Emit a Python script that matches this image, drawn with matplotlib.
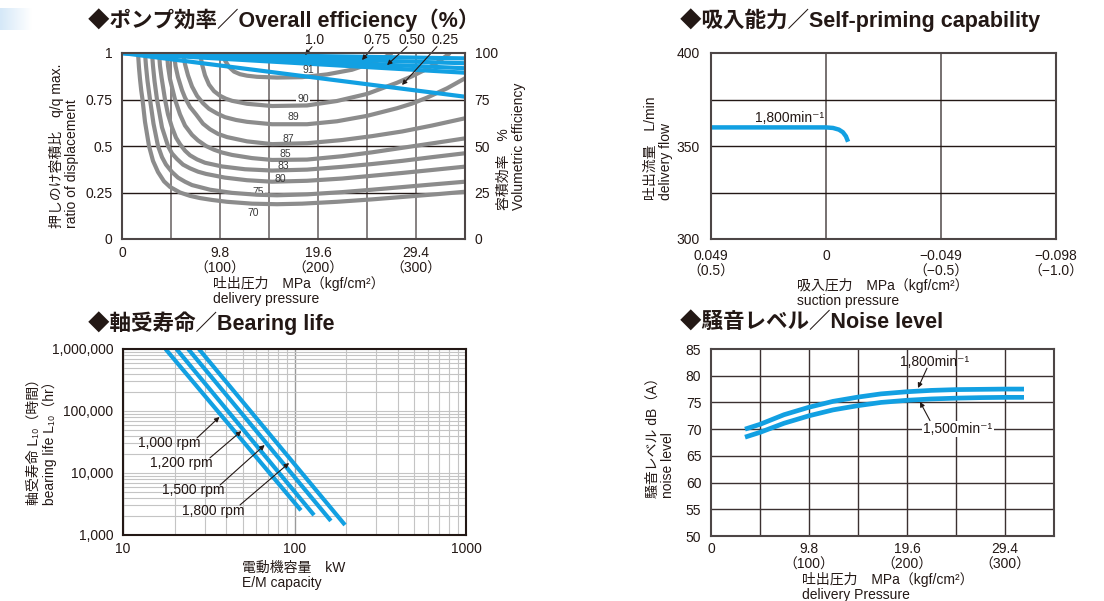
import matplotlib
matplotlib.use('Agg')
import matplotlib.pyplot as plt
import numpy as np
from matplotlib.ticker import NullFormatter

plt.rcParams['font.family'] = ['Liberation Sans', 'Noto Sans CJK JP', 'DejaVu Sans']
plt.rcParams['font.size'] = 10

W, H = 1104, 601
BLUE = '#12a0e2'
GRAY = '#8c8c8c'
INK = '#231815'

# ---- ポンプ効率: delivery pressure (MPa) / displacement ratio ----
eff_levels = ['70', '75', '80', '83', '85', '87', '89', '90', '91']
eff70 = [(1.6, 1.0), (1.7, 0.92), (1.8, 0.86), (1.92, 0.8), (2.05, 0.75), (2.3, 0.63), (2.7, 0.5),
         (3.1, 0.42), (3.6, 0.36), (4.2, 0.31), (4.8, 0.28), (5.8, 0.25), (6.8, 0.232),
         (7.8, 0.22), (9.0, 0.21), (10.5, 0.2), (13, 0.19), (15.5, 0.187), (18, 0.19),
         (21.5, 0.2), (25, 0.213), (28.5, 0.228), (31.5, 0.241), (34.3, 0.254)]
eff75 = [(2.3, 1.0), (2.4, 0.93), (2.55, 0.85), (2.8, 0.75), (3.15, 0.62), (3.6, 0.5), (4.0, 0.44),
         (4.4, 0.4), (5.0, 0.36), (5.6, 0.33), (6.3, 0.308), (7.0, 0.29), (8.8, 0.265),
         (11, 0.248), (13.5, 0.238), (15.5, 0.235), (18.5, 0.24), (22, 0.252), (25, 0.265),
         (28, 0.279), (31, 0.293), (34.3, 0.308)]
eff80 = [(3.0, 1.0), (3.1, 0.93), (3.25, 0.85), (3.5, 0.75), (4.0, 0.6), (4.6, 0.5), (5.0, 0.46),
         (5.5, 0.43), (6.1, 0.4), (6.8, 0.38), (7.6, 0.362), (8.4, 0.35), (10.3, 0.33),
         (12.5, 0.316), (15, 0.308), (18.5, 0.313), (22, 0.325), (25, 0.34), (28, 0.355),
         (31, 0.371), (34.3, 0.389)]
eff83 = [(3.7, 1.0), (3.8, 0.93), (3.95, 0.87), (4.3, 0.75), (4.6, 0.67), (5.0, 0.6),
         (5.4, 0.545), (5.8, 0.51), (6.3, 0.475), (6.8, 0.45), (7.5, 0.428), (8.3, 0.41),
         (10, 0.39), (12.3, 0.375), (15, 0.368), (18.5, 0.373), (22, 0.388), (25, 0.403),
         (28, 0.42), (31, 0.44), (34.3, 0.461)]
eff85 = [(4.5, 1.0), (4.6, 0.93), (4.8, 0.86), (5.3, 0.75), (5.8, 0.67), (6.3, 0.61), (7.0, 0.56),
         (7.6, 0.53), (8.4, 0.5), (9.2, 0.48), (10, 0.465), (11, 0.452), (13, 0.435), (15, 0.425),
         (18.5, 0.427), (22, 0.445), (25, 0.466), (28, 0.49), (31, 0.514), (34.3, 0.541)]
eff87 = [(5.2, 1.0), (5.35, 0.93), (5.6, 0.87), (6.0, 0.8), (6.3, 0.76), (6.8, 0.71), (7.4, 0.67),
         (8.1, 0.62), (8.8, 0.59), (9.6, 0.565), (10.5, 0.548), (12.5, 0.525), (15, 0.51),
         (18.5, 0.515), (22, 0.532), (25, 0.553), (28, 0.578), (31, 0.61), (34.3, 0.649)]
eff89 = [(6.1, 1.0), (6.3, 0.94), (6.6, 0.88), (7.0, 0.82), (7.5, 0.77), (8.1, 0.73), (8.7, 0.7),
         (9.5, 0.675), (10.3, 0.655), (11.4, 0.64), (12.5, 0.63), (15, 0.617), (18.5, 0.617),
         (21.5, 0.633), (24.5, 0.662), (27.5, 0.703), (29, 0.728), (30.5, 0.76), (32.5, 0.81),
         (34.3, 0.864)]
eff90 = [(7.8, 1.0), (8.0, 0.94), (8.3, 0.88), (8.7, 0.83), (9.2, 0.795), (9.8, 0.77),
         (10.4, 0.754), (11, 0.743), (12.5, 0.727), (15, 0.715), (18.5, 0.718), (21.5, 0.742),
         (24.5, 0.78), (27.5, 0.84), (29, 0.875), (30.5, 0.915), (31.7, 0.955), (32.8, 1.0)]
eff91 = [(10.1, 1.0), (10.3, 0.96), (10.7, 0.925), (11.2, 0.9), (11.8, 0.886), (12.5, 0.878),
         (13.5, 0.872), (15.5, 0.868), (18, 0.87), (20.5, 0.885), (23, 0.91), (25.2, 0.95),
         (26.2, 0.975), (27, 1.0)]
eff_curves = [eff70, eff75, eff80, eff83, eff85, eff87, eff89, eff90, eff91]

# volumetric efficiency (%) lines, pressure 0 -> 34.3 MPa
vol_pressure = [0, 34.3]
vol_lines = [[100, 97.1], [100, 94.5], [100, 91.8], [100, 89.4], [100, 76.5]]
vol_ratio_labels = ['1.0', '0.75', '0.50', '0.25']

# ---- 吸入能力 ----
suction_p = [0.049, 0.02, 0.0, -0.003, -0.0055, -0.0072, -0.0085, -0.0094]
suction_flow = [360, 360, 360, 359.7, 358.8, 357.4, 355.2, 352.3]

# ---- 軸受寿命 (kW, hr) ----
rpm_labels = ['1,000 rpm', '1,200 rpm', '1,500 rpm', '1,800 rpm']
life_kw = [[17.7, 109], [20.5, 130], [24.0, 163], [27.7, 197]]
life_hr = [[1e6, 2500], [1e6, 2090], [1e6, 1690], [1e6, 1450]]

# ---- 騒音レベル ----
noise_p = [3.4, 4.9, 7.3, 9.8, 12.2, 14.7, 17.0, 19.6, 22.0, 24.5, 27.0, 29.4, 31.3]
noise_1800 = [70.0, 70.9, 72.7, 74.1, 75.2, 76.0, 76.6, 77.0, 77.25, 77.4, 77.45, 77.5, 77.5]
noise_1500 = [68.5, 69.4, 71.1, 72.5, 73.6, 74.4, 75.0, 75.4, 75.65, 75.8, 75.9, 75.95, 75.95]


def rect(x0, y0, x1, y1):
    return [x0 / W, 1 - y1 / H, (x1 - x0) / W, (y1 - y0) / H]


def ftext(x, y, s, **kw):
    fig.text(x / W, 1 - y / H, s, **kw)


def style_axes(ax):
    for s in ax.spines.values():
        s.set_color('#4d4646')
        s.set_linewidth(1.5)
        s.set_zorder(3)
    ax.tick_params(length=0, labelsize=10, colors=INK, pad=5)


arrow_kw = dict(arrowstyle='-|>', color=INK, lw=0.8, mutation_scale=7, shrinkA=0, shrinkB=0)

fig = plt.figure(figsize=(W / 100, H / 100), dpi=100)

# light blue corner mark
cax = fig.add_axes(rect(0, 8, 32, 30))
cax.imshow(np.linspace(0, 1, 64)[None, :], aspect='auto',
           cmap=matplotlib.colors.LinearSegmentedColormap.from_list('c', ['#d5e8f8', '#ffffff']))
cax.axis('off')

title_kw = dict(fontsize=15.5, fontweight='bold', color=INK, va='center', ha='left')
ftext(88, 20, '◆ポンプ効率／Overall efficiency（%）', **title_kw)
ftext(680, 20, '◆吸入能力／Self-priming capability', **title_kw)
ftext(88, 323, '◆軸受寿命／Bearing life', **title_kw)
ftext(680, 323, '◆騒音レベル／Noise level', **title_kw)

lab_kw = dict(fontsize=10, color=INK, linespacing=1.1)

# ================= overall efficiency =================
ax1 = fig.add_axes(rect(122, 53, 465, 239))
ax1.set_xlim(0, 34.3)
ax1.set_ylim(0, 1)
style_axes(ax1)
ax1.vlines(np.arange(4.9, 34.0, 4.9), 0, 1, colors='#7d7777', lw=1.3, zorder=0.5)
ax1.hlines([0.25, 0.5, 0.75], 0, 34.3, colors=INK, lw=1.0, zorder=0.6)
for pts in eff_curves:
    ax1.plot([p for p, q in pts], [q for p, q in pts], color=GRAY, lw=3.0,
             solid_capstyle='butt', solid_joinstyle='round', zorder=2)
for v in vol_lines:
    ax1.plot(vol_pressure, [x / 100 for x in v], color=BLUE, lw=3.0,
             solid_capstyle='butt', zorder=2.2)
ax1.set_xticks([0, 9.8, 19.6, 29.4])
ax1.set_xticklabels(['0', '9.8\n（100）', '19.6\n（200）', '29.4\n（300）'])
ax1.set_yticks([0, 0.25, 0.5, 0.75, 1])
ax1.set_yticklabels(['0', '0.25', '0.5', '0.75', '1'])
ax1.tick_params(axis='y', pad=7)
sec = ax1.secondary_yaxis('right', functions=(lambda q: q * 100, lambda v: v / 100))
sec.set_yticks([0, 25, 50, 75, 100])
sec.tick_params(length=0, labelsize=10, colors=INK, pad=7)
sec.spines['right'].set_visible(False)

eff_label_pos = [(13.1, 0.14), (13.6, 0.253), (15.8, 0.325), (16.1, 0.392), (16.3, 0.455),
                 (16.6, 0.54), (17.1, 0.656), (18.1, 0.75), (18.6, 0.909)]
for lev, (x, y) in zip(eff_levels, eff_label_pos):
    boxed = lev in ('90', '75')
    ax1.text(x, y, lev, fontsize=7.5, color='#3a3a3a', ha='center', va='center',
             zorder=1.5 if boxed else 2.5,
             bbox=dict(facecolor='white', edgecolor='none', pad=0.6) if boxed else None)

ratio_text = [19.3, 25.5, 29.0, 32.3]
ratio_tail = [(19.0, 1.034), (25.1, 1.034), (28.5, 1.034), (31.5, 1.034)]
ratio_tip = [(18.3, 0.989), (24.0, 0.962), (26.5, 0.935), (28.0, 0.828)]
for lab, tx, tl, tp in zip(vol_ratio_labels, ratio_text, ratio_tail, ratio_tip):
    ax1.text(tx, 1.068, lab, fontsize=10, color=INK, ha='center', va='center', clip_on=False)
    ax1.annotate('', xy=tp, xytext=tl, annotation_clip=False, arrowprops=arrow_kw)

ftext(64, 228, '押しのけ容積比　q/q max.\nratio of displacement', rotation=90,
      ha='center', va='bottom', multialignment='left', **lab_kw)
ftext(511, 210, '容積効率　%\nVolumetric efficiency', rotation=90,
      ha='center', va='bottom', multialignment='left', **lab_kw)
ftext(213, 276, '吐出圧力　MPa（kgf/cm²）\ndelivery pressure', ha='left', va='top', **lab_kw)

# ================= self-priming =================
ax2 = fig.add_axes(rect(711, 53, 1056, 239))
ax2.set_xlim(0.049, -0.098)
ax2.set_ylim(300, 400)
style_axes(ax2)
ax2.vlines([0, -0.049], 300, 400, colors='#5f5757', lw=1.2, zorder=0.5)
ax2.hlines([325, 350, 375], 0.049, -0.098, colors=INK, lw=1.0, zorder=0.6)
ax2.plot(suction_p, suction_flow, color=BLUE, lw=3.2, solid_capstyle='butt', zorder=2)
ax2.set_xticks([0.049, 0, -0.049, -0.098])
ax2.set_xticklabels(['0.049\n（0.5）', '0', '−0.049\n（−0.5）', '−0.098\n（−1.0）'])
ax2.set_yticks([300, 350, 400])
ax2.tick_params(axis='x', pad=7)
ax2.tick_params(axis='y', pad=8)
ax2.text(0.0155, 364.8, '1,800min⁻¹', fontsize=10, color=INK, ha='center', va='center')
ftext(658, 200, '吐出流量　L/min\ndelivery flow', rotation=90,
      ha='center', va='bottom', multialignment='left', **lab_kw)
ftext(797, 278, '吸入圧力　MPa（kgf/cm²）\nsuction pressure', ha='left', va='top', **lab_kw)

# ================= bearing life =================
ax3 = fig.add_axes(rect(123, 349, 466, 535))
ax3.set_xscale('log')
ax3.set_yscale('log')
ax3.set_xlim(10, 1000)
ax3.set_ylim(1e3, 1e6)
style_axes(ax3)
ax3.spines[:].set_color(INK)
ax3.grid(which='minor', color='#c4c4c4', lw=0.8, zorder=0.5)
ax3.grid(which='major', axis='x', color='#9a9a9a', lw=1.0, zorder=0.5)
ax3.grid(which='major', axis='y', color='#c4c4c4', lw=0.8, zorder=0.5)
ax3.set_axisbelow(True)
for kw, hr in zip(life_kw, life_hr):
    ax3.plot(kw, hr, color=BLUE, lw=3.0, solid_capstyle='butt', zorder=2)
ax3.set_xticks([10, 100, 1000])
ax3.set_xticklabels(['10', '100', '1000'])
ax3.set_yticks([1e3, 1e4, 1e5, 1e6])
ax3.set_yticklabels(['1,000', '10,000', '100,000', '1,000,000'])
ax3.xaxis.set_minor_formatter(NullFormatter())
ax3.yaxis.set_minor_formatter(NullFormatter())
ax3.tick_params(which='both', length=0)
ax3.tick_params(axis='y', pad=7)

rpm_text = [(12.2, 30500), (14.4, 14500), (16.9, 5320), (22.1, 2440)]
rpm_tail = [(27.0, 36700), (32.1, 17500), (36.8, 6400), (48.1, 3050)]
rpm_tip = [(36.5, 80000), (49.0, 47500), (67.0, 28300), (93.0, 14500)]
for lab, tx, tl, tp in zip(rpm_labels, rpm_text, rpm_tail, rpm_tip):
    ax3.text(tx[0], tx[1], lab, fontsize=10, color=INK, ha='left', va='center', zorder=3)
    ax3.annotate('', xy=tp, xytext=tl, arrowprops=arrow_kw)

ftext(42, 505, '軸受寿命 L₁₀（時間）\nbearing life L₁₀（hr）', rotation=90,
      ha='center', va='bottom', multialignment='left', **lab_kw)
ftext(242, 561, '電動機容量　kW\nE/M capacity', ha='left', va='top', **lab_kw)

# ================= noise level =================
ax4 = fig.add_axes(rect(711, 349, 1054, 536))
ax4.set_xlim(0, 34.3)
ax4.set_ylim(50, 85)
style_axes(ax4)
ax4.vlines(np.arange(4.9, 34.0, 4.9), 50, 85, colors='#3b3131', lw=1.0, zorder=0.5)
ax4.hlines(np.arange(55, 85, 5), 0, 34.3, colors='#3b3131', lw=1.0, zorder=0.5)
ax4.plot(noise_p, noise_1800, color=BLUE, lw=3.4, solid_capstyle='butt', zorder=2)
ax4.plot(noise_p, noise_1500, color=BLUE, lw=3.4, solid_capstyle='butt', zorder=2)
ax4.set_xticks([0, 9.8, 19.6, 29.4])
ax4.set_xticklabels(['0', '9.8\n（100）', '19.6\n（200）', '29.4\n（300）'])
ax4.set_yticks(np.arange(50, 86, 5))
ax4.tick_params(axis='x', pad=4)
ax4.tick_params(axis='y', pad=7)
ax4.text(22.4, 82.6, '1,800min⁻¹', fontsize=10, color=INK, ha='center', va='center')
ax4.annotate('', xy=(20.7, 77.7), xytext=(21.6, 81.4), arrowprops=arrow_kw)
ax4.text(24.7, 70.0, '1,500min⁻¹', fontsize=10, color=INK, ha='center', va='center', zorder=1.5,
         bbox=dict(facecolor='white', edgecolor='none', pad=0.8))
ax4.annotate('', xy=(20.9, 75.1), xytext=(21.9, 71.6), arrowprops=arrow_kw)
ftext(660, 498, '騒音レベル dB（A）\nnoise level', rotation=90,
      ha='center', va='bottom', multialignment='left', **lab_kw)
ftext(802, 572, '吐出圧力　MPa（kgf/cm²）\ndelivery Pressure', ha='left', va='top', **lab_kw)

fig.savefig('out.png', dpi=100)
plt.close(fig)
